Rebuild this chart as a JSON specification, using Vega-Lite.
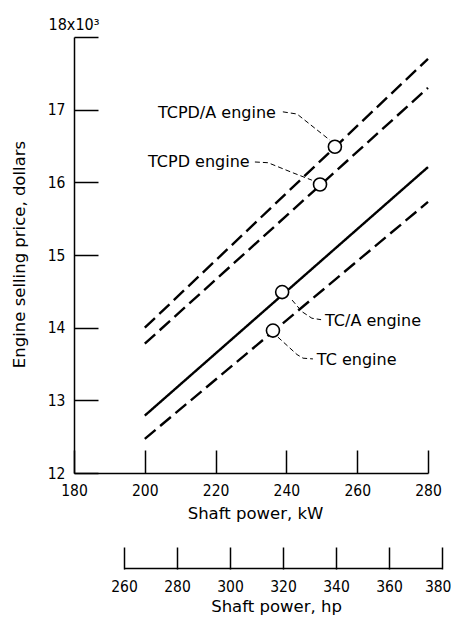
{
  "$schema": "https://vega.github.io/schema/vega-lite/v6.json",
  "padding": {"left": 11, "top": 17, "right": 0, "bottom": 5},
  "background": "white",
  "spacing": 24,
  "config": {
    "view": {"stroke": null},
    "axis": {
      "grid": false,
      "labelFlush": false,
      "labelOverlap": false,
      "domainColor": "black",
      "domainWidth": 1.5,
      "tickColor": "black",
      "tickWidth": 1.5,
      "labelColor": "black",
      "titleColor": "black",
      "labelFont": "DejaVu Sans Condensed",
      "labelFontSize": 15.5,
      "labelFontWeight": "normal",
      "titleFont": "DejaVu Sans",
      "titleFontSize": 16.5,
      "titleFontWeight": "normal"
    },
    "text": {"font": "DejaVu Sans", "fontSize": 16, "color": "black"}
  },
  "datasets": {
    "lines": [
      {"s": "TCPD/A", "dash": "dashed", "x": 200, "y": 14.0},
      {"s": "TCPD/A", "dash": "dashed", "x": 280, "y": 17.70},
      {"s": "TCPD", "dash": "dashed", "x": 200, "y": 13.78},
      {"s": "TCPD", "dash": "dashed", "x": 280, "y": 17.30},
      {"s": "TC/A", "dash": "solid", "x": 200, "y": 12.79},
      {"s": "TC/A", "dash": "solid", "x": 280, "y": 16.21},
      {"s": "TC", "dash": "dashed", "x": 200, "y": 12.47},
      {"s": "TC", "dash": "dashed", "x": 280, "y": 15.73}
    ],
    "leaders": [
      {"s": "TCPD/A", "k": 1, "x": 239.0, "y": 16.97},
      {"s": "TCPD/A", "k": 2, "x": 243.0, "y": 16.94},
      {"s": "TCPD/A", "k": 3, "x": 252.3, "y": 16.58},
      {"s": "TCPD", "k": 1, "x": 231.1, "y": 16.28},
      {"s": "TCPD", "k": 2, "x": 234.8, "y": 16.27},
      {"s": "TCPD", "k": 3, "x": 241.9, "y": 16.13},
      {"s": "TCPD", "k": 4, "x": 247.2, "y": 16.03},
      {"s": "TC/A", "k": 1, "x": 241.6, "y": 14.38},
      {"s": "TC/A", "k": 2, "x": 244.4, "y": 14.22},
      {"s": "TC/A", "k": 3, "x": 247.2, "y": 14.13},
      {"s": "TC/A", "k": 4, "x": 249.8, "y": 14.11},
      {"s": "TC", "k": 1, "x": 237.6, "y": 13.87},
      {"s": "TC", "k": 2, "x": 243.0, "y": 13.63},
      {"s": "TC", "k": 3, "x": 244.7, "y": 13.58},
      {"s": "TC", "k": 4, "x": 247.5, "y": 13.57}
    ],
    "points": [
      {"s": "TCPD/A", "x": 253.7, "y": 16.49},
      {"s": "TCPD", "x": 249.5, "y": 15.97},
      {"s": "TC/A", "x": 238.8, "y": 14.49},
      {"s": "TC", "x": 236.2, "y": 13.96}
    ],
    "labels": [
      {"t": "TCPD/A engine", "x": 203.7, "y": 16.95},
      {"t": "TCPD engine", "x": 200.9, "y": 16.28},
      {"t": "TC/A engine", "x": 250.9, "y": 14.09},
      {"t": "TC engine", "x": 248.6, "y": 13.56}
    ]
  },
  "vconcat": [
    {
      "width": 354,
      "height": 436,
      "layer": [
        {
          "data": {"name": "lines"},
          "mark": {"type": "line", "stroke": "black", "strokeWidth": 2.4},
          "encoding": {
            "x": {
              "field": "x", "type": "quantitative",
              "scale": {"domain": [180, 280], "nice": false, "zero": false},
              "axis": {
                "title": "Shaft power, kW",
                "values": [180, 200, 220, 240, 260, 280],
                "format": "d",
                "tickSize": -23,
                "labelPadding": 33,
                "titleX": 181, "titleY": 40,
                "titleAlign": "center", "titleBaseline": "middle"
              }
            },
            "y": {
              "field": "y", "type": "quantitative",
              "scale": {"domain": [12, 18], "nice": false, "zero": false},
              "axis": {
                "title": "Engine selling price, dollars",
                "values": [12, 13, 14, 15, 16, 17, 18],
                "format": "d",
                "labelExpr": "datum.value == 18 ? '' : datum.label",
                "tickSize": -24,
                "labelPadding": 33,
                "titleX": -55, "titleY": 217,
                "titleAngle": -90,
                "titleAlign": "center", "titleBaseline": "middle"
              }
            },
            "detail": {"field": "s"},
            "strokeDash": {
              "field": "dash", "type": "nominal",
              "scale": {"domain": ["solid", "dashed"], "range": [[1, 0], [14, 6]]},
              "legend": null
            }
          }
        },
        {
          "data": {"name": "leaders"},
          "mark": {"type": "line", "stroke": "black", "strokeWidth": 1, "strokeDash": [5, 3]},
          "encoding": {
            "x": {"field": "x", "type": "quantitative"},
            "y": {"field": "y", "type": "quantitative"},
            "detail": {"field": "s"},
            "order": {"field": "k", "type": "quantitative"}
          }
        },
        {
          "data": {"name": "points"},
          "mark": {"type": "point", "shape": "circle", "filled": false, "fill": "white", "fillOpacity": 1, "stroke": "black", "strokeWidth": 1.6, "size": 170, "opacity": 1},
          "encoding": {
            "x": {"field": "x", "type": "quantitative"},
            "y": {"field": "y", "type": "quantitative"}
          }
        },
        {
          "data": {"name": "labels"},
          "mark": {"type": "text", "align": "left", "baseline": "middle"},
          "encoding": {
            "x": {"field": "x", "type": "quantitative"},
            "y": {"field": "y", "type": "quantitative"},
            "text": {"field": "t"}
          }
        },
        {
          "data": {"values": [{"t": "18x10³", "x": 180, "y": 18}]},
          "mark": {"type": "text", "align": "center", "baseline": "bottom", "dy": -4, "font": "DejaVu Sans Condensed", "fontSize": 16},
          "encoding": {
            "x": {"field": "x", "type": "quantitative"},
            "y": {"field": "y", "type": "quantitative"},
            "text": {"field": "t"}
          }
        }
      ]
    },
    {
      "width": 368,
      "height": 1,
      "data": {"values": [{"x": 260, "x2": 380}]},
      "mark": {"type": "rule", "stroke": "black", "strokeWidth": 1.5},
      "encoding": {
        "x": {
          "field": "x", "type": "quantitative",
          "scale": {"domain": [241.13, 380], "nice": false, "zero": false},
          "axis": {
            "title": "Shaft power, hp",
            "values": [260, 280, 300, 320, 340, 360, 380],
            "format": "d",
            "domain": false,
            "tickSize": -22,
            "labelPadding": 32,
            "labelAlign": {"condition": {"test": "datum.value == 380", "value": "right"}, "value": "center"},
            "labelOffset": {"condition": {"test": "datum.value == 380", "value": 9}, "value": 0},
            "titleX": 202, "titleY": 37,
            "titleAlign": "center", "titleBaseline": "middle"
          }
        },
        "x2": {"field": "x2"}
      }
    }
  ]
}
